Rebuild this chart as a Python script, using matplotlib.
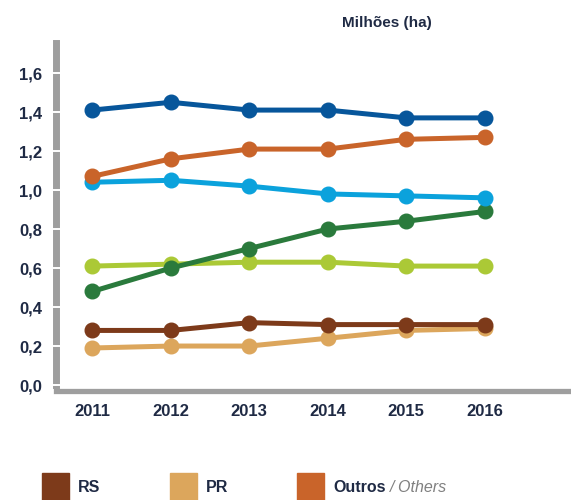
import matplotlib
matplotlib.use('Agg')
import matplotlib.pyplot as plt
from matplotlib.patches import Rectangle

years = [2011, 2012, 2013, 2014, 2015, 2016]
mg = [1.41, 1.45, 1.41, 1.41, 1.37, 1.37]
outros = [1.07, 1.16, 1.21, 1.21, 1.26, 1.27]
sp = [1.04, 1.05, 1.02, 0.98, 0.97, 0.96]
ms = [0.48, 0.60, 0.70, 0.80, 0.84, 0.89]
ba = [0.61, 0.62, 0.63, 0.63, 0.61, 0.61]
rs = [0.28, 0.28, 0.32, 0.31, 0.31, 0.31]
pr = [0.19, 0.20, 0.20, 0.24, 0.28, 0.29]
y_ticks = [0.0, 0.2, 0.4, 0.6, 0.8, 1.0, 1.2, 1.4, 1.6]

C_MG = '#07569b'
C_OUT = '#c9642a'
C_SP = '#0ba2dc'
C_MS = '#2a7a3c'
C_BA = '#abc936'
C_RS = '#7d3a1a'
C_PR = '#dca65c'
TXT = '#1f2a44'
GRAY = '#9e9e9e'

plt.rcParams['font.family'] = ['Liberation Sans', 'DejaVu Sans']

fig = plt.figure(figsize=(5.71, 5.0), dpi=100)
ax = fig.add_axes([55.5 / 571, 109.5 / 500, 1 - 55.5 / 571, 347.5 / 500])

# draw order: lowest lines first
series = [(pr, C_PR), (rs, C_RS), (ba, C_BA), (ms, C_MS),
          (sp, C_SP), (outros, C_OUT), (mg, C_MG)]
for vals, col in series:
    ax.plot(years, vals, color=col, lw=3.6, marker='o', ms=10.5,
            solid_capstyle='round', clip_on=False)

ax.set_xlim(2010.53, 2017.10)
ax.set_ylim(-0.028, 1.754)
ax.set_xticks(years)
ax.set_xticklabels([str(y) for y in years])
ax.set_yticks(y_ticks)
ax.set_yticklabels([('%.1f' % v).replace('.', ',') for v in y_ticks])

for s in ['top', 'right']:
    ax.spines[s].set_visible(False)
ax.spines['left'].set_color(GRAY)
ax.spines['left'].set_linewidth(5)
ax.spines['left'].set_bounds(0, 1.754)
ax.spines['bottom'].set_color(GRAY)
ax.spines['bottom'].set_linewidth(3.8)
ax.set_axisbelow(False)  # white tick notches over the spine

ax.tick_params(axis='y', direction='inout', length=9, width=1.4,
               color='white', pad=5, labelsize=12, labelcolor=TXT)
ax.tick_params(axis='x', length=0, pad=10, labelsize=12, labelcolor=TXT)
for lab in ax.get_xticklabels() + ax.get_yticklabels():
    lab.set_fontweight('bold')

fig.text(387 / 571, 1 - 23 / 500, 'Milhões (ha)', ha='center', va='center',
         fontsize=11, fontweight='bold', color=TXT)

# legend (visible part)
leg_names = ['RS', 'PR', 'Outros']
leg_colors = [C_RS, C_PR, C_OUT]
leg_x = [42, 170, 297]
for name, col, x in zip(leg_names, leg_colors, leg_x):
    fig.patches.append(Rectangle((x / 571, 0), 27 / 571, 27 / 500,
                                 transform=fig.transFigure, color=col))
    t = fig.text((x + 36) / 571, 12 / 500, name, ha='left', va='center',
                 fontsize=11.5, fontweight='bold', color=TXT)
fig.canvas.draw()
bb = t.get_window_extent()
fig.text(bb.x1 / 571 + 4 / 571, 12 / 500, '/ Others', ha='left', va='center',
         fontsize=11.5, style='italic', color='#808080')

fig.savefig('out.png', dpi=100)
